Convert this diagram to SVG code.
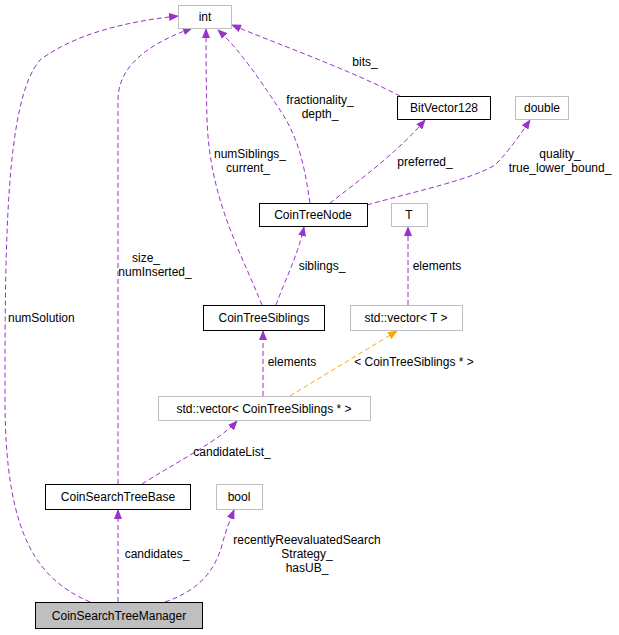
<svg xmlns="http://www.w3.org/2000/svg" width="619" height="635" viewBox="0 0 619 635">
<style>
text{font-family:"Liberation Sans",Arial,sans-serif;font-size:12px;fill:#000}
.n{fill:#fff;stroke:#000}
.g{fill:#fff;stroke:#bfbfbf}
.e{fill:none;stroke:#9a32cd;stroke-dasharray:5,3}
.o{fill:none;stroke:#ffa500;stroke-dasharray:5,3}
</style>
<defs>
<marker id="p" markerWidth="10" markerHeight="8" refX="9" refY="4" orient="auto" markerUnits="userSpaceOnUse"><path d="M0,0L10,4L0,8z" fill="#9a32cd"/></marker>
<marker id="y" markerWidth="10" markerHeight="8" refX="9" refY="4" orient="auto" markerUnits="userSpaceOnUse"><path d="M0,0L10,4L0,8z" fill="#ffa500"/></marker>
</defs>
<rect width="619" height="635" fill="#fff"/>
<g id="edges">
<path class="e" marker-end="url(#p)" d="M90,602C40,580 5,540 5,400C5,250 5,100 40,60C80,30 140,20 178,16"/>
<text x="8" y="322">numSolution</text>
<path class="e" marker-end="url(#p)" d="M118,484C118,400 118,150 118,100C118,60 160,40 192,28"/>
<text x="146" y="262" text-anchor="middle">size_</text><text x="155" y="276" text-anchor="middle">numInserted_</text>
<path class="e" marker-end="url(#p)" d="M262,305C240,250 210,200 207,120C206,80 206,50 206,29"/>
<text x="250" y="158" text-anchor="middle">numSiblings_</text><text x="248" y="172" text-anchor="middle">current_</text>
<path class="e" marker-end="url(#p)" d="M310,203C305,170 300,140 280,110C260,80 240,50 218,30"/>
<text x="320" y="104" text-anchor="middle">fractionality_</text><text x="320" y="118" text-anchor="middle">depth_</text>
<path class="e" marker-end="url(#p)" d="M400,96C350,70 280,45 232,25"/>
<text x="365" y="66" text-anchor="middle">bits_</text>
<path class="e" marker-end="url(#p)" d="M330,203C360,180 400,150 425,120"/>
<text x="425" y="166" text-anchor="middle">preferred_</text>
<path class="e" marker-end="url(#p)" d="M367,205C420,190 470,180 495,165C510,150 520,135 530,120"/>
<text x="560" y="158" text-anchor="middle">quality_</text><text x="560" y="172" text-anchor="middle">true_lower_bound_</text>
<path class="e" marker-end="url(#p)" d="M276,305C285,280 298,255 304,227"/>
<text x="322" y="270" text-anchor="middle">siblings_</text>
<path class="e" marker-end="url(#p)" d="M408,305L408,227"/>
<text x="437" y="270" text-anchor="middle">elements</text>
<path class="e" marker-end="url(#p)" d="M263,396L263,331"/>
<text x="292" y="366" text-anchor="middle">elements</text>
<path class="o" marker-end="url(#y)" d="M290,396L397,331"/>
<text x="414" y="366" text-anchor="middle">&lt; CoinTreeSiblings * &gt;</text>
<path class="e" marker-end="url(#p)" d="M142,484C180,460 220,440 237,421"/>
<text x="232" y="456" text-anchor="middle">candidateList_</text>
<path class="e" marker-end="url(#p)" d="M118,602L118,510"/>
<text x="157" y="558" text-anchor="middle">candidates_</text>
<path class="e" marker-end="url(#p)" d="M165,602C200,590 215,570 222,545C226,530 230,520 234,510"/>
<text x="307" y="544" text-anchor="middle">recentlyReevaluatedSearch</text><text x="307" y="558" text-anchor="middle">Strategy_</text><text x="307" y="572" text-anchor="middle">hasUB_</text>
</g>
<g id="int"><rect class="g" x="178.5" y="5.5" width="53" height="23"/><text x="205" y="21" text-anchor="middle">int</text></g>
<g id="BitVector128"><rect class="n" x="397.5" y="96.5" width="93" height="23"/><text x="444" y="112" text-anchor="middle">BitVector128</text></g>
<g id="double"><rect class="g" x="515.5" y="96.5" width="53" height="23"/><text x="542" y="112" text-anchor="middle">double</text></g>
<g id="CoinTreeNode"><rect class="n" x="259.5" y="203.5" width="108" height="23"/><text x="313" y="219" text-anchor="middle">CoinTreeNode</text></g>
<g id="T"><rect class="g" x="391.5" y="203.5" width="36" height="23"/><text x="409" y="219" text-anchor="middle">T</text></g>
<g id="CoinTreeSiblings"><rect class="n" x="203.5" y="305.5" width="121" height="25"/><text x="264" y="322" text-anchor="middle">CoinTreeSiblings</text></g>
<g id="vectorT"><rect class="g" x="350.5" y="305.5" width="112" height="25"/><text x="406" y="322" text-anchor="middle">std::vector&lt; T &gt;</text></g>
<g id="vectorCTS"><rect class="g" x="158.5" y="396.5" width="212" height="24"/><text x="264" y="413" text-anchor="middle">std::vector&lt; CoinTreeSiblings * &gt;</text></g>
<g id="CoinSearchTreeBase"><rect class="n" x="45.5" y="484.5" width="145" height="25"/><text x="118" y="501" text-anchor="middle">CoinSearchTreeBase</text></g>
<g id="bool"><rect class="g" x="216.5" y="484.5" width="46" height="25"/><text x="239" y="501" text-anchor="middle">bool</text></g>
<g id="CoinSearchTreeManager"><rect x="35.5" y="602.5" width="167" height="26" fill="#bfbfbf" stroke="#000"/><text x="119" y="620" text-anchor="middle">CoinSearchTreeManager</text></g>
</svg>
